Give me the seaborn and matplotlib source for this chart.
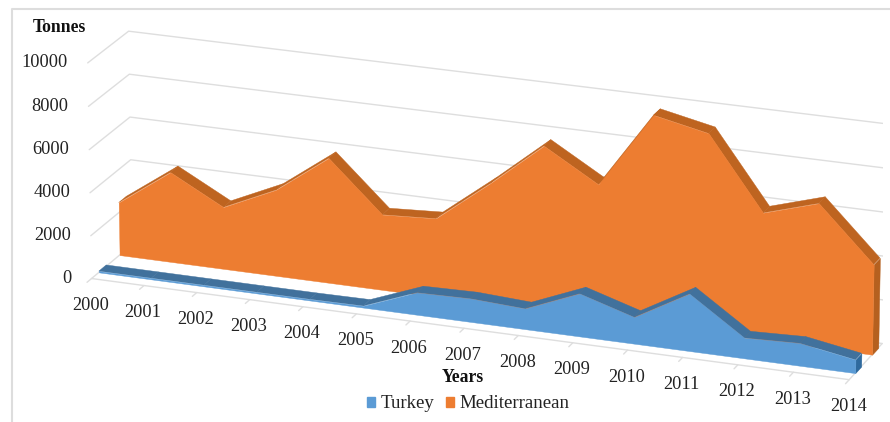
import matplotlib
matplotlib.use("Agg")
import numpy as np
import pandas as pd
import matplotlib.pyplot as plt
import seaborn as sns
from matplotlib.patches import Patch
from matplotlib.lines import Line2D
from mpl_toolkits.mplot3d import proj3d

years = list(range(2000, 2015))
turkey = [60, 60, 60, 60, 60, 80, 1030, 1080, 950, 1970, 1220, 2620, 940, 1030, 610]
mediterranean = [2470, 4200, 2890, 4010, 5800, 3500, 3640, 5560, 7610, 6160, 9630, 9110, 5820, 6570, 4110]
y_ticks = [0, 2000, 4000, 6000, 8000, 10000]

# cores do grafico
azul, azul_topo, azul_lado = "#5B9BD5", "#41719C", "#2F6A9E"
laranja, laranja_topo, laranja_lado = "#ED7D31", "#BE6420", "#B5601F"
cinza = "#DEDEDE"

sns.set_theme(style="white")
plt.rcParams['font.family'] = ['Liberation Serif', 'DejaVu Serif']

df = pd.DataFrame({'ano': years, 'Turkey': turkey, 'Mediterranean': mediterranean})
df['t'] = df['ano'] - df['ano'].iloc[0]
n = df['t'].iloc[-1]

W, H = 890, 422
fig = plt.figure(figsize=(W / 100, H / 100), dpi=100)
S = 823
ax = fig.add_axes([60 / W, -203 / H, S / W, S / H], projection='3d', computed_zorder=False)
ax.set_proj_type('persp', focal_length=1.8)
ax.view_init(elev=20, azim=-69.5)
ax.set_box_aspect((810, 106, 232))
ax.set_xlim(0, n, view_margin=0)
ax.set_ylim(0, 1, view_margin=0)
ax.set_zlim(0, 10000, view_margin=0)
ax.set_axis_off()

# grades das paredes e do chao
for v in y_ticks:
    ax.plot([0, 0, n], [0, 1, 1], [v, v, v], color=cinza, lw=1, zorder=1)
ax.plot([0, n, n], [0, 0, 1], [0, 0, 0], color=cinza, lw=1, zorder=1)
for t in df['t']:
    ax.plot([t, t], [0, -0.11], [0, 0], color=cinza, lw=1, zorder=1)


def area(col, d0, d1, frente, topo, lado, z):
    x = df['t'].values
    v = df[col].values.astype(float)
    ax.fill_between(x, np.full(len(x), d1), v, x, np.full(len(x), d0), v, shade=False, mode='quad',
                    facecolors=topo, edgecolors=topo, linewidth=0.3, zorder=z)
    ax.fill_between(x[-1:].repeat(2), [d0, d1], v[-1:].repeat(2), x[-1:].repeat(2), [d0, d1], [0, 0],
                    shade=False, mode='quad', facecolors=lado, edgecolors=lado, linewidth=0.3, zorder=z + 1)
    # frente plana num poligono so, sem emendas
    ax.fill_between(x, np.full(len(x), d0), v, x, np.full(len(x), d0), np.zeros(len(x)), shade=False,
                    mode='polygon', facecolors=frente, edgecolors=frente, linewidth=0.3, zorder=z + 2)


area('Mediterranean', 0.69, 0.88, laranja, laranja_topo, laranja_lado, 3)
area('Turkey', 0.18, 0.36, azul, azul_topo, azul_lado, 7)

M = ax.get_proj()


def rotulo(x, y, z, txt, dx, dy, **kw):
    px, py, _ = proj3d.proj_transform(x, y, z, M)
    ax.annotate(txt, (px, py), xytext=(dx, dy), textcoords='offset pixels',
                annotation_clip=False, color="#222222", fontsize=13.2, **kw)


for t, ano in zip(df['t'], df['ano']):
    rotulo(t, 0, 0, str(ano), -1, -27, ha='center', va='center')
for v in y_ticks:
    rotulo(0, 0, v, str(v), -20, 0, ha='right', va='center')

fig.text(59 / W, 1 - 27 / H, 'Tonnes', fontsize=12.7, fontweight='bold', color='#111111', ha='center', va='center')
fig.text(463 / W, 1 - 377 / H, 'Years', fontsize=12.7, fontweight='bold', color='#111111', ha='center', va='center')

alcas = [Patch(color=azul, label='Turkey'), Patch(color=laranja, label='Mediterranean')]
fig.legend(handles=alcas, ncol=2, loc='center', bbox_to_anchor=(468 / W, 1 - 404 / H), frameon=False,
           fontsize=13.6, handlelength=0.43, handleheight=0.43, handletextpad=0.3, columnspacing=0.6,
           labelcolor='#222222', borderpad=0)

# moldura
fig.add_artist(Line2D([12 / W, 12 / W, 1], [0, 1 - 9 / H, 1 - 9 / H], color='#DDDDDD', lw=1.5))

fig.savefig('out.png', dpi=100)
